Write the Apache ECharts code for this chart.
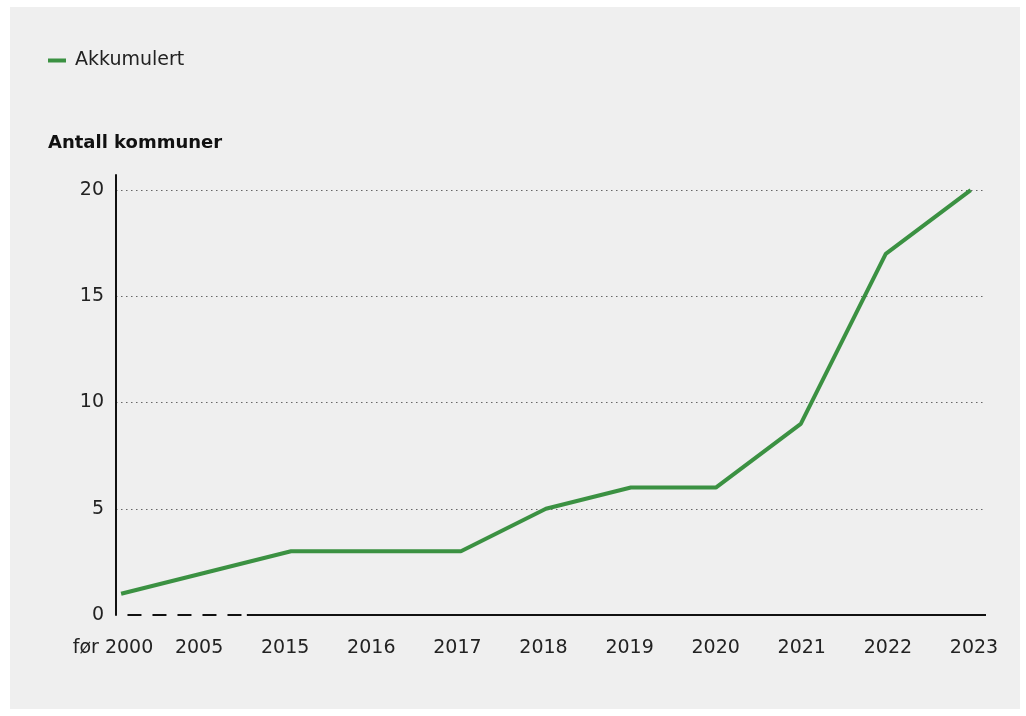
<!DOCTYPE html>
<html>
<head>
<meta charset="utf-8">
<script src="https://cdn.jsdelivr.net/npm/echarts@6/dist/echarts.min.js"></script>
<style>
html,body{margin:0;padding:0;background:#fff;}
#panel{position:absolute;left:10px;top:7px;width:1010px;height:702px;background:#efefef;}
#chart{position:absolute;left:0;top:0;width:1026px;height:716px;}
</style>
</head>
<body>
<div id="panel"></div>
<div id="chart"></div>
<script>
const categories = ['før 2000','2005','2015','2016','2017','2018','2019','2020','2021','2022','2023'];
const values = [1, 2, 3, 3, 3, 5, 6, 6, 9, 17, 20];
const yTicks = [0, 5, 10, 15, 20];
const seriesName = 'Akkumulert';
const yTitle = 'Antall kommuner';

const green = '#3b9142';
const font = '"DejaVu Sans", sans-serif';
const chart = echarts.init(document.getElementById('chart'), null, {renderer:'canvas'});
const pts = values.map((v,i)=>[i,v]);
const catIdx = categories.map((c,i)=>i);
chart.setOption({
  backgroundColor: 'transparent',
  animation: false,
  textStyle:{fontFamily:font},
  legend:{
    left: 43, top: 46,
    itemWidth: 18, itemHeight: 4,
    icon: 'rect',
    textStyle:{fontSize:19, color:'#222', fontFamily:font, padding:[0,0,0,4]},
    data:[seriesName]
  },
  graphic:[{
    type:'text', left: 48, top: 134,
    style:{text: yTitle, font:'bold 18px ' + font, fill:'#111'}
  }],
  grid:[
    {left:116, right:40, top:175, bottom:101, containLabel:false},
    {left:110, right:46, top:175, bottom:101, containLabel:false}
  ],
  xAxis:[{
    type:'value', min:-0.06, max:10.18, gridIndex:0,
    axisLine:{show:false},
    axisTick:{show:false},
    splitLine:{show:false},
    axisLabel:{show:false}
  },{
    type:'value', min:-0.035, max:10.07, gridIndex:1,
    axisLine:{show:false},
    axisTick:{show:false},
    splitLine:{show:false},
    axisLabel:{
      customValues: catIdx,
      formatter: v => categories[Math.round(v)],
      fontSize:19, color:'#222', margin:24, fontFamily:font
    }
  }],
  yAxis:[{
    type:'value', min:0, max:20.71, gridIndex:0,
    axisLine:{show:true, onZero:false, lineStyle:{color:'#111', width:2}},
    axisTick:{show:false},
    axisLabel:{customValues: yTicks, fontSize:19, color:'#222', margin:12, fontFamily:font},
    splitLine:{show:true, showMinLine:false, showMaxLine:false, lineStyle:{color:'#666', type:[1.5,3.5], width:1}}
  },{
    type:'value', min:0, max:20.71, gridIndex:1, show:false
  }],
  series:[{
    name: seriesName,
    type:'line',
    xAxisIndex:0, yAxisIndex:0,
    data: pts,
    symbol:'none',
    lineStyle:{color:green, width:4},
    itemStyle:{color:green},
    z:5,
    markLine:{
      silent:true, symbol:'none', label:{show:false},
      data:[
        [{coord:[0.075,0], lineStyle:{type:[14,11], color:'#111', width:2}}, {coord:[1.45,0]}],
        [{coord:[1.48,0], lineStyle:{type:'solid', color:'#111', width:2}}, {coord:[10.18,0]}]
      ]
    }
  }]
});
</script>
</body>
</html>
